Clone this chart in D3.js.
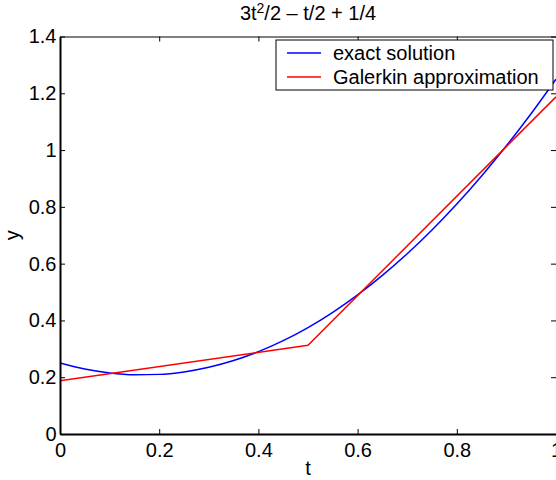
<!DOCTYPE html>
<html><head><meta charset="utf-8">
<script src="https://cdn.jsdelivr.net/npm/d3@7"></script>
<style>html,body{margin:0;padding:0;background:#fff;overflow:hidden}</style>
</head><body>
<svg id="chart" width="556" height="480"></svg>
<script>
// Data
const exactT = [0,0.05,0.1,0.15,0.2,0.25,0.3,0.35,0.4,0.45,0.5,0.55,0.6,0.65,0.7,0.75,0.8,0.85,0.9,0.95,1.0];
const exactY = [0.25,0.22875,0.215,0.20875,0.21,0.21875,0.235,0.25875,0.29,0.32875,0.375,0.42875,0.49,0.55875,0.635,0.71875,0.81,0.90875,1.015,1.12875,1.25];
const galerkinT = [0, 0.5, 1];
const galerkinY = [0.1875, 0.3125, 1.1875];
const xTicks = [0,0.2,0.4,0.6,0.8,1];
const yTicks = [0,0.2,0.4,0.6,0.8,1,1.2,1.4];
const seriesNames = ["exact solution","Galerkin approximation"];
const seriesColors = ["#0000ff","#ff0000"];

const svg = d3.select("#chart");
const L=60, R=556, T=36.5, B=434;
const font = "Liberation Sans, Arial, Helvetica, sans-serif";
const fs = 20;
const x = d3.scaleLinear().domain([0,1]).range([L,R]);
const y = d3.scaleLinear().domain([0,1.4]).range([B,T]);

// curves
svg.append("path").datum(exactT.map((t,i)=>[t,exactY[i]]))
  .attr("d", d3.line().x(d=>x(d[0])).y(d=>y(d[1])).curve(d3.curveMonotoneX)).attr("fill","none")
  .attr("stroke",seriesColors[0]).attr("stroke-width",1.5);
svg.append("path").datum(galerkinT.map((t,i)=>[t,galerkinY[i]]))
  .attr("d", d3.line().x(d=>x(d[0])).y(d=>y(d[1]))).attr("fill","none")
  .attr("stroke",seriesColors[1]).attr("stroke-width",1.5);

// axes
const styleText = g => g.selectAll("text").attr("font-family",font).attr("font-size",fs).attr("fill","#000");
const axT = svg.append("g").attr("transform",`translate(0,${T})`)
  .call(d3.axisTop(x).tickValues(xTicks).tickFormat("").tickSizeInner(-5).tickSizeOuter(0));
axT.select(".domain").attr("stroke-width",1);
const axR = svg.append("g").attr("transform",`translate(${R},0)`)
  .call(d3.axisRight(y).tickValues(yTicks).tickFormat("").tickSizeInner(-5).tickSizeOuter(0));
const axB = svg.append("g").attr("transform",`translate(0,${B})`)
  .call(d3.axisBottom(x).tickValues(xTicks).tickFormat(d3.format("")).tickSizeInner(-5).tickSizeOuter(0).tickPadding(9));
axB.call(styleText);
axB.select(".domain").attr("stroke-width",2);
const axL = svg.append("g").attr("transform",`translate(${L},0)`)
  .call(d3.axisLeft(y).tickValues(yTicks).tickFormat(d3.format("")).tickSizeInner(-5).tickSizeOuter(0).tickPadding(3.5));
axL.call(styleText);
axL.selectAll("text").attr("dy","0.32em");
axL.select(".domain").attr("stroke-width",2);
svg.selectAll(".tick line").attr("stroke","#000");

// axis labels
svg.append("text").attr("x",(L+R)/2).attr("y",475).attr("text-anchor","middle")
  .attr("font-family",font).attr("font-size",fs).text("t");
svg.append("text").attr("transform",`translate(19,${(T+B)/2}) rotate(-90)`).attr("text-anchor","middle")
  .attr("font-family",font).attr("font-size",fs).text("y");

// title
const title = svg.append("text").attr("x",(L+R)/2).attr("y",20).attr("text-anchor","middle")
  .attr("font-family",font).attr("font-size",fs);
title.append("tspan").text("3t");
title.append("tspan").attr("font-size",14).attr("dy",-7).text("2");
title.append("tspan").attr("dy",7).text("/2 \u2013 t/2 + 1/4");

// legend
const lg = svg.append("g");
lg.append("rect").attr("x",276).attr("y",40).attr("width",277).attr("height",50)
  .attr("fill","#fff").attr("stroke","#000").attr("stroke-width",1);
seriesNames.forEach((n,i)=>{
  const yy = 53 + i*24;
  lg.append("line").attr("x1",287).attr("x2",321).attr("y1",yy).attr("y2",yy)
    .attr("stroke",seriesColors[i]).attr("stroke-width",1.5);
  lg.append("text").attr("x",333).attr("y",yy).attr("dy","0.35em")
    .attr("font-family",font).attr("font-size",fs).text(n);
});
</script>
</body></html>
